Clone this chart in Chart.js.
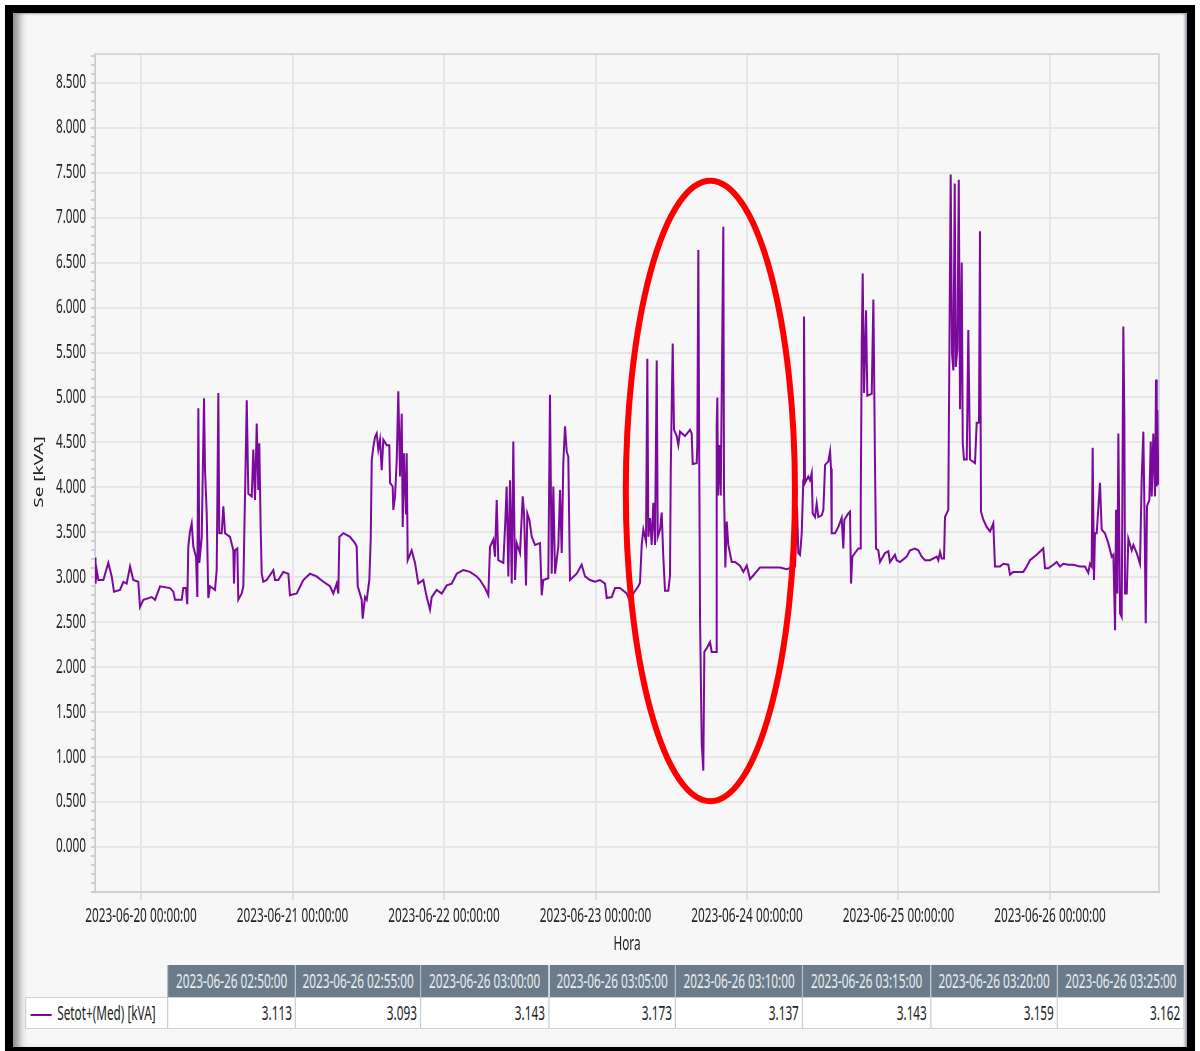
<!DOCTYPE html>
<html>
<head>
<meta charset="utf-8">
<script src="https://cdn.jsdelivr.net/npm/chart.js@4.4.1/dist/chart.umd.min.js"></script>
<style>
html,body{margin:0;padding:0;background:#fff;width:1200px;height:1051px;overflow:hidden;}
#marco{position:absolute;left:5px;top:5px;width:1190px;height:1050px;box-sizing:border-box;border:8px solid #000;background:#f7f7f7;
  box-shadow:inset 12px 0 9px -6px #8a8a8a, inset -4px 0 3px -2px #8f9aa5, inset 0 2px 2px -1px #aaa;}
#grafico{position:absolute;left:0;top:0;}
#tabla{position:absolute;left:25px;top:965px;border-collapse:collapse;table-layout:fixed;
  transform-origin:0 0;font:19px "Noto Sans",sans-serif;color:#222;}
#tabla th{background:#6b7b8a;color:#e8edf1;font-weight:normal;height:32px;padding:0;text-align:center;
  border-left:2px solid #b4bec8;white-space:nowrap;overflow:hidden;}
#tabla th.vacia{background:transparent;border:none;}
#tabla td{background:#fff;height:30px;padding:0 5px 0 0;text-align:right;border:1px solid #cfcfcf;border-left:2px solid #cfcfcf;white-space:nowrap;overflow:hidden;}
#tabla td.serie{text-align:left;padding-left:7px;}
.linea{display:inline-block;width:34px;height:2px;background:#7b0a9c;vertical-align:middle;margin-right:9px;}
</style>
</head>
<body>
<div id="marco"></div>
<canvas id="grafico" width="1200" height="960"></canvas>
<table id="tabla"></table>
<script>
// hours since 2023-06-20 00:00:00
const horas = [
  -7.29,-7.21,-7.02,-6.76,-5.97,-5.18,-4.64,-4.28,-3.33,-2.80,-2.27,-1.74,-1.22,-0.43,-0.16,0.37,1.69,2.22,3.01,4.59,
  5.12,5.39,6.44,6.70,7.13,7.33,7.49,7.76,8.03,8.29,8.71,8.92,9.08,9.24,9.62,9.98,10.14,10.41,10.66,10.93,
  11.72,11.99,12.25,12.40,12.78,13.04,13.31,14.10,14.62,14.73,14.89,15.26,15.41,15.95,16.21,16.48,16.75,17.00,17.54,17.79,
  18.06,18.33,18.58,18.74,18.96,19.12,19.37,19.91,20.96,21.23,21.75,22.54,23.34,23.60,24.67,25.71,26.77,27.83,28.88,29.94,
  30.46,31.00,31.26,31.42,32.05,33.11,33.90,34.17,34.33,34.96,35.12,35.49,35.76,36.17,36.39,36.55,36.80,37.07,37.34,37.59,
  37.86,38.13,38.39,38.92,39.33,39.45,39.87,39.97,40.24,40.51,40.76,41.03,41.30,41.46,41.66,41.98,42.09,42.25,42.88,43.41,
  43.93,44.72,45.26,45.78,46.05,46.84,47.64,48.43,49.22,50.01,51.06,52.12,53.18,53.70,54.50,55.02,55.29,55.81,56.08,56.35,
  56.60,57.40,57.67,57.93,58.19,58.46,58.73,58.98,59.25,59.52,60.04,60.47,60.68,60.99,61.20,61.52,61.90,62.42,63.21,63.48,
  63.73,64.52,64.79,65.06,65.32,65.59,66.11,66.38,66.65,66.90,67.17,67.44,67.69,67.96,69.02,69.81,70.34,71.13,71.92,72.71,
  73.51,73.78,74.57,75.09,75.88,76.94,77.36,77.99,78.78,79.05,79.32,79.58,80.00,80.21,80.37,80.64,80.90,81.16,81.43,81.70,
  81.86,82.22,82.49,82.74,83.01,83.54,83.80,83.92,84.07,84.23,84.44,84.87,85.12,85.39,86.18,86.97,87.24,87.40,88.03,88.13,
  88.29,88.45,88.56,88.83,89.08,89.24,89.62,90.14,90.41,91.09,91.20,91.30,91.41,91.62,91.84,92.25,92.36,92.57,92.79,93.04,
  93.58,94.10,94.89,95.42,95.96,96.48,97.00,98.06,99.65,101.23,102.29,103.08,103.61,103.92,104.13,104.40,104.67,104.92,105.03,105.19,
  105.71,105.98,106.25,106.41,106.77,107.04,107.30,107.84,108.10,108.37,108.89,109.16,109.31,109.42,109.95,110.47,111.00,111.26,111.42,112.05,
  112.32,112.48,112.69,113.11,113.64,113.91,114.02,114.18,114.33,114.54,114.86,115.06,115.76,116.02,116.12,116.28,116.44,116.80,117.07,117.86,
  118.39,118.65,119.44,119.71,120.24,121.30,121.82,122.62,123.14,123.68,124.20,124.99,126.05,126.31,126.58,126.85,127.21,127.37,127.89,128.05,
  128.27,128.48,128.69,128.91,129.07,129.33,129.55,129.75,130.02,130.18,130.38,130.81,131.06,131.33,132.12,132.39,132.75,132.91,133.07,133.44,
  133.97,134.50,135.02,135.29,136.08,136.61,137.40,137.67,138.19,138.73,139.77,140.31,140.83,141.89,142.94,143.21,143.73,144.53,145.06,145.58,
  146.11,146.90,147.69,148.75,149.54,150.07,150.34,150.60,150.76,150.97,151.13,151.40,151.92,152.19,152.71,153.24,153.78,154.04,154.31,154.47,
  154.67,154.83,155.10,155.36,155.62,155.78,155.89,156.16,156.41,156.95,157.21,157.74,158.26,158.53,158.79,158.95,159.17,159.37,159.74,159.96,
  160.12,160.37,160.64,160.80,160.91,161.01,161.17
];
const seKva = [
  3.22,2.93,3.08,2.97,2.97,3.16,3.01,2.84,2.86,2.95,2.93,3.12,2.97,2.95,2.67,2.75,2.78,2.75,2.90,2.88,
  2.84,2.75,2.75,2.88,2.88,2.70,3.34,3.51,3.60,3.34,3.23,2.78,4.88,3.16,3.45,4.99,4.19,3.71,2.77,2.90,
  2.86,3.08,5.05,3.49,3.49,3.79,3.49,3.45,3.30,2.93,3.30,3.32,2.75,2.82,2.90,3.93,4.97,3.93,3.90,4.42,
  3.86,4.71,3.97,4.49,3.53,3.04,2.95,2.97,3.08,2.97,2.97,3.06,3.04,2.80,2.82,2.97,3.04,3.01,2.95,2.90,
  2.82,2.93,2.82,3.45,3.49,3.45,3.38,3.34,2.90,2.75,2.54,2.78,2.75,2.97,3.42,4.30,4.45,4.56,4.60,4.42,
  4.53,4.19,4.53,4.47,4.47,4.05,4.01,3.75,3.90,4.30,5.07,4.12,4.82,3.56,4.38,3.71,4.38,3.19,3.30,3.16,
  2.93,2.97,2.78,2.64,2.78,2.86,2.82,2.91,2.93,3.04,3.08,3.06,3.01,2.97,2.88,2.80,3.34,3.42,3.23,3.86,
  3.19,3.16,3.56,4.01,3.01,4.08,2.93,4.51,2.97,3.38,3.27,3.90,3.71,2.91,3.71,3.64,3.45,3.36,3.38,2.80,
  2.97,2.99,5.03,3.04,4.01,3.04,3.34,3.97,3.27,4.27,4.68,4.40,4.34,2.97,3.04,3.14,3.01,2.97,2.95,2.97,
  2.93,2.77,2.78,2.88,2.88,2.82,2.75,2.82,2.90,2.94,3.36,3.53,3.40,5.43,3.45,3.66,3.36,3.83,3.36,5.41,
  3.45,3.53,3.72,3.23,2.85,2.85,3.02,4.17,4.88,5.60,4.64,4.57,4.47,4.62,4.57,4.64,4.60,4.26,4.27,4.47,
  6.64,4.09,2.55,1.15,0.85,2.17,2.21,2.28,2.17,2.17,4.68,5.00,3.91,4.47,3.91,6.90,3.96,3.11,3.62,3.36,
  3.17,3.17,3.13,3.06,3.13,2.98,3.02,3.11,3.11,3.11,3.09,3.11,3.12,3.79,3.27,3.25,3.49,4.08,5.90,4.05,
  4.12,4.08,4.16,3.71,3.67,3.82,3.67,3.69,3.75,4.25,4.29,4.40,4.21,3.49,3.49,3.56,3.66,3.32,3.64,3.71,
  3.73,2.93,3.23,3.27,3.32,3.32,3.82,5.60,6.38,5.05,5.97,5.02,5.04,6.09,5.42,4.23,3.32,3.30,3.17,3.27,
  3.29,3.17,3.25,3.19,3.17,3.23,3.30,3.32,3.30,3.23,3.19,3.19,3.23,3.19,3.28,3.21,3.21,3.67,3.75,5.38,
  7.48,5.49,5.30,7.38,5.34,5.53,7.42,4.87,6.50,4.49,4.31,4.31,5.75,4.31,4.27,4.72,4.72,6.85,3.73,3.64,
  3.56,3.51,3.60,3.12,3.12,3.15,3.14,3.03,3.06,3.06,3.06,3.12,3.19,3.25,3.32,3.10,3.10,3.14,3.17,3.12,
  3.15,3.14,3.14,3.12,3.12,3.05,3.15,3.12,4.44,2.97,3.49,3.49,4.05,3.53,3.49,3.38,3.23,3.25,2.41,3.75,
  2.82,4.60,2.60,2.56,5.79,4.79,2.82,2.82,3.43,3.30,3.36,3.27,3.15,4.10,4.62,3.82,2.49,3.79,3.86,4.51,
  3.90,4.60,3.90,5.20,4.01,4.86,4.03
];

const xTickHours = [0, 24, 48, 72, 96, 120, 144];
const xTickLabels = ['2023-06-20 00:00:00','2023-06-21 00:00:00','2023-06-22 00:00:00','2023-06-23 00:00:00',
                     '2023-06-24 00:00:00','2023-06-25 00:00:00','2023-06-26 00:00:00'];
const yTickValues = [0,0.5,1,1.5,2,2.5,3,3.5,4,4.5,5,5.5,6,6.5,7,7.5,8,8.5];
const yTickLabels = ['0.000','0.500','1.000','1.500','2.000','2.500','3.000','3.500','4.000','4.500',
                     '5.000','5.500','6.000','6.500','7.000','7.500','8.000','8.500'];

// marked zone (red ellipse): centre [hours, kVA] and radii
const elipseCentro = [90.2, 3.96];
const elipseRadios = [13.4, 3.45];

const tablaHoras = ['2023-06-26 02:50:00','2023-06-26 02:55:00','2023-06-26 03:00:00','2023-06-26 03:05:00',
                    '2023-06-26 03:10:00','2023-06-26 03:15:00','2023-06-26 03:20:00','2023-06-26 03:25:00'];
const tablaValores = ['3.113','3.093','3.143','3.173','3.137','3.143','3.159','3.162'];
const tablaAnchos = [128,125,128,127,127,128,127,126];

// the original text is a tall narrow face, so everything is squeezed horizontally
const ESTRECHO = 0.62;

// table under the chart (drawn wide, then squeezed by a CSS transform)
const tabla = document.getElementById('tabla');
let html = '<colgroup><col style="width:' + (142 / ESTRECHO) + 'px">' +
  tablaAnchos.map(w => '<col style="width:' + (w / ESTRECHO) + 'px">').join('') + '</colgroup>';
html += '<tr><th class="vacia"></th>' + tablaHoras.map(t => '<th>' + t + '</th>').join('') + '</tr>';
html += '<tr><td class="serie"><span class="linea"></span>Setot+(Med) [kVA]</td>' + tablaValores.map(v => '<td>' + v + '</td>').join('') + '</tr>';
tabla.innerHTML = html;
tabla.style.width = (1158 / ESTRECHO) + 'px';
tabla.style.transform = 'scaleX(' + ESTRECHO + ')';

const FUENTE = '19px "Noto Sans", sans-serif';

function texto(ctx, txt, x, y, align, vertical) {
  ctx.save();
  ctx.translate(x, y);
  ctx.scale(ESTRECHO, 1);
  if (vertical) ctx.rotate(-Math.PI / 2);
  ctx.font = FUENTE;
  ctx.fillStyle = '#222';
  ctx.textAlign = align;
  ctx.textBaseline = 'middle';
  ctx.fillText(txt, 0, 0);
  ctx.restore();
}

const marcoPlugin = {
  id: 'marco',
  beforeDatasetsDraw(chart) {
    const a = chart.chartArea, ctx = chart.ctx;
    ctx.save();
    ctx.strokeStyle = '#c9ced4';
    ctx.lineWidth = 1.5;
    ctx.strokeRect(a.left, a.top, a.right - a.left, a.bottom - a.top);
    ctx.restore();
  },
  afterDatasetsDraw(chart) {
    const x = chart.scales.x, y = chart.scales.y, ctx = chart.ctx;
    const cx = x.getPixelForValue(elipseCentro[0]);
    const cy = y.getPixelForValue(elipseCentro[1]);
    const rx = Math.abs(x.getPixelForValue(elipseCentro[0] + elipseRadios[0]) - cx);
    const ry = Math.abs(y.getPixelForValue(elipseCentro[1] + elipseRadios[1]) - cy);
    ctx.save();
    ctx.strokeStyle = '#ff0000';
    ctx.lineWidth = 6;
    ctx.beginPath();
    ctx.ellipse(cx, cy, rx, ry, 0, 0, Math.PI * 2);
    ctx.stroke();
    ctx.restore();
  },
  afterDraw(chart) {
    const x = chart.scales.x, y = chart.scales.y, ctx = chart.ctx, a = chart.chartArea;
    yTickValues.forEach((v, i) => texto(ctx, yTickLabels[i], a.left - 9, y.getPixelForValue(v), 'right'));
    xTickHours.forEach((h, i) => texto(ctx, xTickLabels[i], x.getPixelForValue(h), a.bottom + 25, 'center'));
    texto(ctx, 'Hora', (a.left + a.right) / 2, a.bottom + 53, 'center');
    texto(ctx, 'Se [kVA]', 40, 472, 'center', true);
  }
};

const esMayor = v => Math.abs(v * 2 - Math.round(v * 2)) < 1e-6;

new Chart(document.getElementById('grafico'), {
  type: 'line',
  data: {
    datasets: [{
      label: 'Setot+(Med) [kVA]',
      data: horas.map((h, i) => ({x: h, y: seKva[i]})),
      borderColor: '#7b0a9c',
      borderWidth: 2,
      pointRadius: 0,
      tension: 0,
      fill: false
    }]
  },
  options: {
    responsive: false,
    animation: false,
    devicePixelRatio: 1,
    layout: {padding: {top: 54, right: 41, left: 28, bottom: 4}},
    plugins: {legend: {display: false}, tooltip: {enabled: false}},
    scales: {
      x: {
        type: 'linear',
        min: -7.29,
        max: 161.27,
        afterBuildTicks: s => { s.ticks = xTickHours.map(v => ({value: v})); },
        afterFit: s => { s.height = 64; },
        grid: {color: '#e6e6e6', lineWidth: 2, tickLength: 8, tickColor: '#e0e0e0'},
        border: {display: true, color: '#c9ced4'},
        ticks: {display: false}
      },
      y: {
        min: -0.5,
        max: 8.82,
        afterBuildTicks: s => {
          const t = [];
          for (let k = -5; k <= 88; k++) t.push({value: k / 10});
          s.ticks = t;
        },
        afterFit: s => { s.width = 67; },
        grid: {
          color: c => (c.tick && esMayor(c.tick.value)) ? '#e6e6e6' : 'rgba(0,0,0,0)',
          lineWidth: 2, tickLength: 4, tickColor: '#cfcfcf'
        },
        border: {display: true, color: '#c9ced4'},
        ticks: {display: false}
      }
    }
  },
  plugins: [marcoPlugin]
});
</script>
</body>
</html>
